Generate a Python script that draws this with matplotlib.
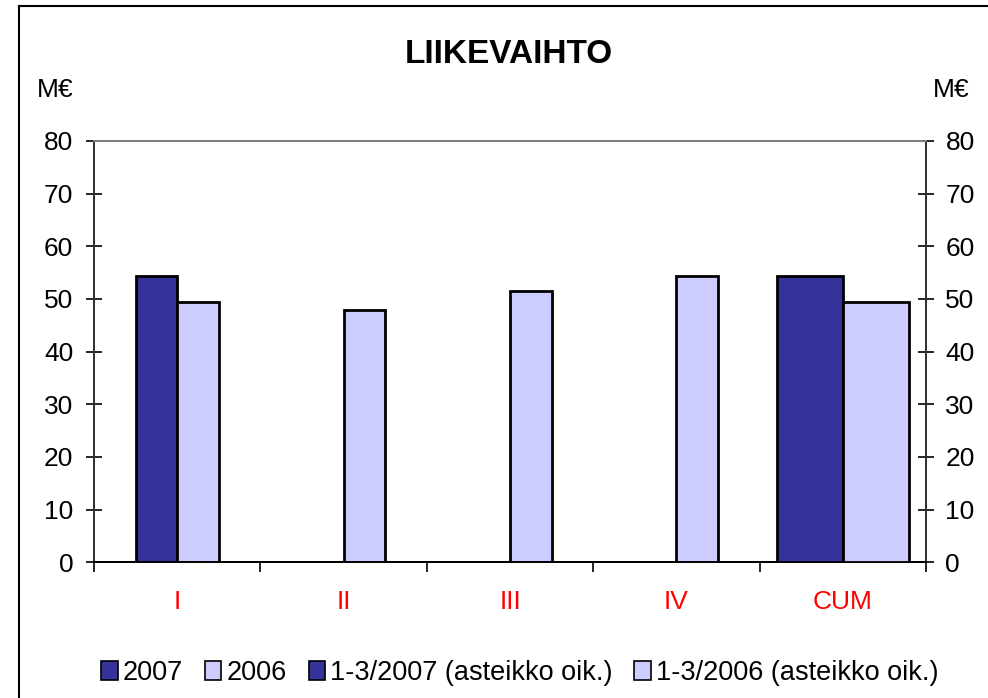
import numpy as np
import matplotlib
matplotlib.use("Agg")
import matplotlib.pyplot as plt
from matplotlib.patches import Patch
from matplotlib.lines import Line2D

plt.rcParams['font.family'] = ['Liberation Sans', 'DejaVu Sans']

categories = ["I", "II", "III", "IV", "CUM"]
v2007 = [54.4, np.nan, np.nan, np.nan, np.nan]
v2006 = [49.5, 47.9, 51.5, 54.4, np.nan]
cum2007 = [np.nan, np.nan, np.nan, np.nan, 54.4]
cum2006 = [np.nan, np.nan, np.nan, np.nan, 49.5]
yticks = [0, 10, 20, 30, 40, 50, 60, 70, 80]

dark = '#333399'
light = '#CCCCFF'

fig = plt.figure(figsize=(9.88, 6.98), dpi=100)
ax = fig.add_axes([94/988, 1-562.3/698, (926-94)/988, (562.3-141)/698])
ax2 = ax.twinx()

x = np.arange(len(categories))
w1 = 0.25
ax.bar(x - w1/2, v2007, w1, color=dark, edgecolor='black', linewidth=2.0, zorder=3)
ax.bar(x + w1/2, v2006, w1, color=light, edgecolor='black', linewidth=2.0, zorder=3)
w2 = 0.397
ax2.bar(x - w2/2, cum2007, w2, color=dark, edgecolor='black', linewidth=2.0, zorder=3)
ax2.bar(x + w2/2, cum2006, w2, color=light, edgecolor='black', linewidth=2.0, zorder=3)

for a in (ax, ax2):
    a.set_ylim(0, 80)
    a.set_xlim(-0.5, len(categories) - 0.5)
    a.set_yticks(yticks)
    for s in a.spines.values():
        s.set_linewidth(1.4)
    a.spines['top'].set_color('#808080')
    a.spines['left'].set_color('#333333')
    a.spines['right'].set_color('#333333')
    a.spines['bottom'].set_color('black')

ax.set_xticks(np.arange(len(categories) + 1) - 0.5)
ax.set_xticklabels([''] * (len(categories) + 1))
ax.set_xticks(x, minor=True)
ax.set_xticklabels(categories, minor=True, color='red', fontsize=19)
ax.tick_params(axis='x', which='major', direction='out', length=7, width=1.2, color='black')
ax.tick_params(axis='x', which='minor', length=0, pad=20)

ax.tick_params(axis='y', direction='inout', length=12, width=1.2, labelsize=19, pad=9.0, color='black')
ax2.tick_params(axis='y', direction='inout', length=12, width=1.2, labelsize=19, pad=8.0, color='black')

fig.text(508.4/988, 1-63/698, "LIIKEVAIHTO", ha='center', va='baseline',
         fontsize=24, fontweight='bold')
fig.text(37/988, 1-97/698, "M€", ha='left', va='baseline', fontsize=19)
fig.text(969/988, 1-97/698, "M€", ha='right', va='baseline', fontsize=19)

handles = [Patch(facecolor=dark, edgecolor='black', linewidth=1.2),
           Patch(facecolor=light, edgecolor='black', linewidth=1.2),
           Patch(facecolor=dark, edgecolor='black', linewidth=1.2),
           Patch(facecolor=light, edgecolor='black', linewidth=1.2)]
labels = ["2007", "2006", "1-3/2007 (asteikko oik.)", "1-3/2006 (asteikko oik.)"]
fig.legend(handles, labels, loc='center', bbox_to_anchor=(520/988, 1-673/698),
           ncol=4, frameon=False, fontsize=19.5, handlelength=0.6, handleheight=0.7,
           handletextpad=0.2, columnspacing=0.8, borderpad=0)

# outer chart border
fig.add_artist(Line2D([19/988, 19/988], [0, 1-6/698], transform=fig.transFigure,
                      color='black', linewidth=1.5))
fig.add_artist(Line2D([19/988, 1], [1-6/698, 1-6/698], transform=fig.transFigure,
                      color='black', linewidth=1.5))

fig.savefig("out.png", dpi=100)
